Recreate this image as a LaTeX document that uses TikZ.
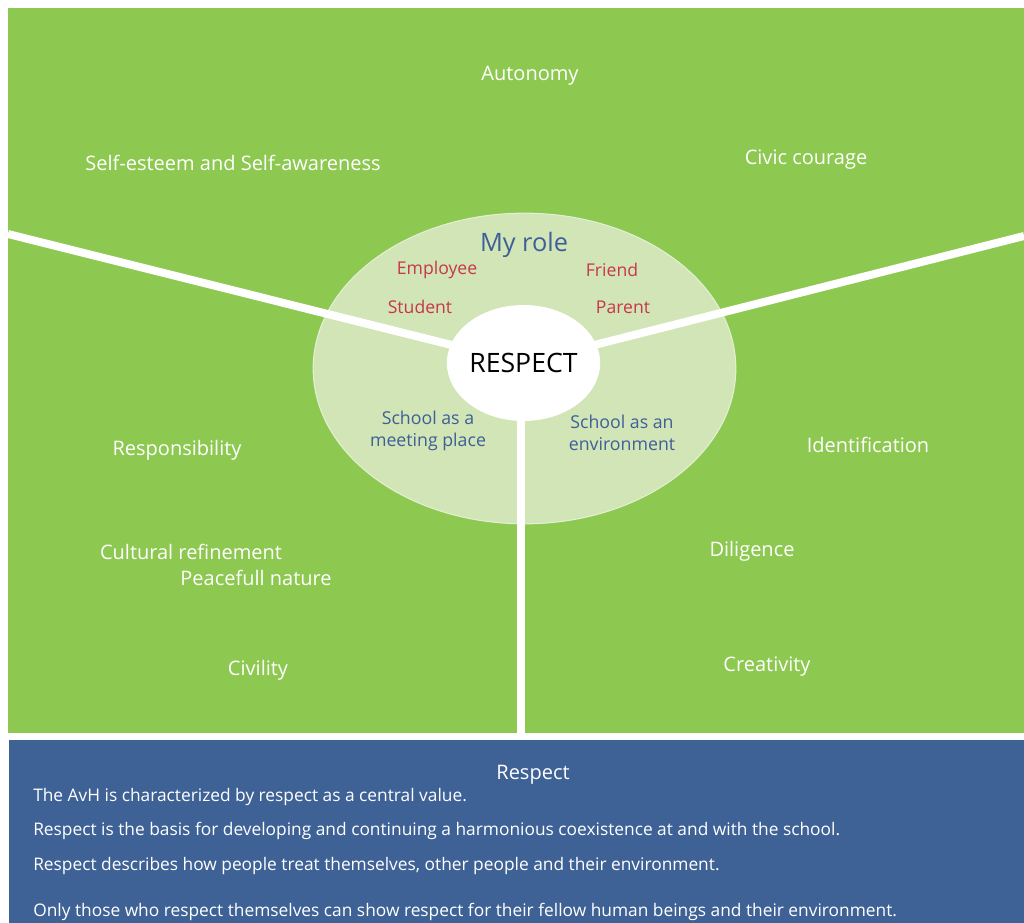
\documentclass[tikz,border=0pt]{standalone}
\usepackage{fontspec}
\setmainfont{Open Sans}
\usepackage{tikz}
\usetikzlibrary{positioning,shapes.geometric}
\definecolor{leafgreen}{RGB}{141,200,81}
\definecolor{palegreen}{RGB}{209,229,182}
\definecolor{boxblue}{RGB}{63,98,150}
\definecolor{roleblue}{RGB}{62,95,152}
\definecolor{rolered}{RGB}{200,54,75}
\tikzset{
  value/.style={text=white,inner sep=0.75pt,font=\fontsize{15}{17}\selectfont},
  role/.style={text=rolered,inner sep=0.75pt,font=\fontsize{13.2}{15}\selectfont},
  place/.style={text=roleblue,inner sep=0.75pt,align=center,font=\fontsize{13.3}{16.5}\selectfont},
  bodyline/.style={text=white,anchor=west,inner sep=0.75pt,font=\fontsize{13}{15}\selectfont},
  spoke/.style={white,line width=6pt}
}
\begin{document}
\begin{tikzpicture}[x=0.75pt,y=0.75pt,yscale=-1,xscale=1]
        \useasboundingbox (0,0) rectangle (1024,923);
        %Shape: Rectangle [id:green] 
        \fill[leafgreen] (8,8) rectangle (1024,733);
        %Shape: Rectangle [id:blue] 
        \fill[boxblue] (9,740) rectangle (1024,923);
        %Shape: Ellipse [id:myrole] 
        \node (roles) [ellipse,fill=palegreen,draw=palegreen!60!white,line width=0.8pt,minimum width=317pt,minimum height=233pt] at (524.5,368.5) {};
        %Straight Lines [id:spokes] 
        \coordinate (lw) at (8,234);
        \coordinate (rw) at (1024,236);
        \coordinate (dn) at (521,733);
        \coordinate (hc) at (523.5,363);
        \draw[spoke] (lw) -- (hc);
        \draw[spoke] (rw) -- (hc);
        \draw[spoke] (521,363) -- (dn);
        %Shape: Ellipse [id:hub] 
        \node (hub) [ellipse,fill=white,minimum width=112.5pt,minimum height=87pt,inner sep=0pt,font=\fontsize{20}{22}\selectfont] at (hc) {RESPECT};
        % Text Node
        \node (myrole) [text=roleblue,inner sep=0.75pt,font=\fontsize{19}{22}\selectfont] at (524,245) {My role};
        \node (employee) [role] at (437,270) {Employee};
        \node (friend) [role] at (612,270) {Friend};
        \node (student) [role] at (420,307) {Student};
        \node (parent) [role] at (623,307) {Parent};
        \node (meeting) [place] at (428,431) {School as a\\meeting place};
        \node (environ) [place] at (622,433) {School as an\\environment};
        % Text Node
        \node (autonomy) [value] at (530,76) {Autonomy};
        \node (esteem) [value] at (233,163) {Self-esteem and Self-awareness};
        \node (civic) [value] at (806,160) {Civic courage};
        \node (respons) [value] at (177,450) {Responsibility};
        \node (ident) [value] at (868,445) {Identification};
        \node (culture) [value] at (191,552) {Cultural refinement};
        \node (peace) [value] at (256,578) {Peacefull nature};
        \node (diligence) [value] at (752,551) {Diligence};
        \node (civility) [value] at (258,670) {Civility};
        \node (creativity) [value] at (767,667) {Creativity};
        % Text Node
        \node (title) [text=white,inner sep=0.75pt,font=\fontsize{15}{17}\selectfont] at (533,775) {Respect};
        \node (lineA) [bodyline] at (32,797) {The AvH is characterized by respect as a central value.};
        \node (lineB) [bodyline] at (32,831) {Respect is the basis for developing and continuing a harmonious coexistence at and with the school.};
        \node (lineC) [bodyline] at (32,866) {Respect describes how people treat themselves, other people and their environment.};
        \node (lineD) [bodyline] at (32,912) {Only those who respect themselves can show respect for their fellow human beings and their environment.};
\end{tikzpicture}
\end{document}
